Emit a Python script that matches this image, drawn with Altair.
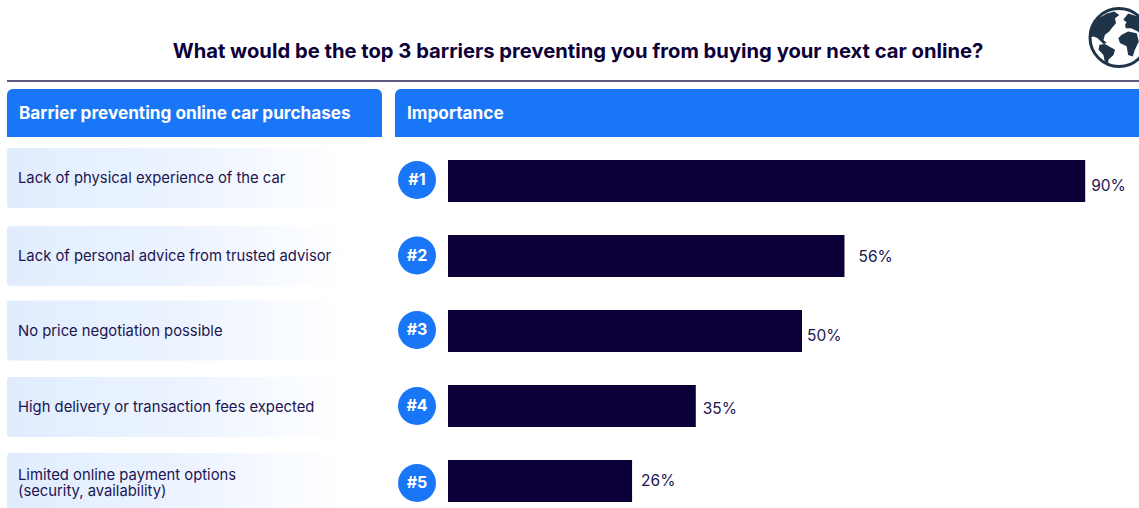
import altair as alt
import pandas as pd

# Survey results, in rank order
barriers = [
    "Lack of physical experience of the car",
    "Lack of personal advice from trusted advisor",
    "No price negotiation possible",
    "High delivery or transaction fees expected",
    "Limited online payment options\n(security, availability)",
]
shares = [90, 56, 50, 35, 26]
ranks = [1, 2, 3, 4, 5]

question = "What would be the top 3 barriers preventing you from buying your next car online?"
left_heading = "Barrier preventing online car purchases"
right_heading = "Importance"

# Palette and type
INK = "#0d0038"
BODY = "#1c1450"
BLUE = "#1976f7"
GLOBE = "#1f3349"
FONT = "Inter"

W, H = 1139, 508
PX_PER_PCT = 7.08
ORIGIN = 448
ROW_STEP = 75
FIRST_ROW = 181

x_scale = alt.Scale(domain=[-ORIGIN / PX_PER_PCT, (W - ORIGIN) / PX_PER_PCT], nice=False, zero=False, padding=0)
y_scale = alt.Scale(
    domain=[1 - FIRST_ROW / ROW_STEP, 1 + (H - FIRST_ROW) / ROW_STEP],
    reverse=True, nice=False, zero=False, padding=0,
)
X = alt.X("share:Q", scale=x_scale, axis=None, stack=None)
X0 = alt.X("base:Q", scale=x_scale, axis=None)
Y = alt.Y("rank:Q", scale=y_scale, axis=None)

df = pd.DataFrame({"rank": ranks, "share": shares, "barrier": barriers})
df["base"] = 0
df["badge"] = [f"#{r}" for r in ranks]
df["label"] = [f"{s}%" for s in shares]

blank = pd.DataFrame({"k": [0]})


def panel(x0, x1, y0, y1, **mark):
    return alt.Chart(blank).mark_rect(**mark).encode(
        x=alt.value(x0), x2=alt.value(x1), y=alt.value(y0), y2=alt.value(y1)
    )


def caption(text, x, y, **mark):
    return alt.Chart(pd.DataFrame({"t": [text]})).mark_text(baseline="middle", font=FONT, **mark).encode(
        x=alt.value(x), y=alt.value(y), text="t:N"
    )


row_fill = {
    "gradient": "linear", "x1": 0, "y1": 0, "x2": 1, "y2": 0,
    "stops": [
        {"offset": 0, "color": "#e0ebfd"},
        {"offset": 0.2, "color": "#e5f0ff"},
        {"offset": 0.5, "color": "#ecf3ff"},
        {"offset": 0.8, "color": "#f8fbff"},
        {"offset": 1, "color": "#ffffff"},
    ],
}

layers = [
    caption(question, 578, 51.5, fontSize=20.2, fontWeight=700, color=INK, align="center"),
    alt.Chart(blank).mark_rule(color="#2a2058", strokeWidth=1.3).encode(
        x=alt.value(7), x2=alt.value(W), y=alt.value(81)
    ),
    panel(7, 382, 89, 137, color=BLUE, cornerRadiusTopLeft=6, cornerRadiusTopRight=6),
    panel(395, W + 10, 89, 137, color=BLUE, cornerRadiusTopLeft=6, cornerRadiusTopRight=6),
    caption(left_heading, 19, 113.5, fontSize=17.2, fontWeight=700, color="white", align="left"),
    caption(right_heading, 407, 113.5, fontSize=17.2, fontWeight=700, color="white", align="left"),
]

# Per-row vertical nudges for the row band, its text, the badge and the value label
band_dy = [-3, 0, -0.5, 1, 2]
text_dy = [-2, 1, 1, 2, -5]
badge_dy = [-1, -0.5, -1, 0, 2]
label_dy = [5, 1, 5, 3, 0]
label_dx = [6, 14, 5, 7, 9]

for i in range(len(df)):
    row = alt.Chart(df.iloc[[i]])
    layers += [
        row.mark_rect(cornerRadius=3, color=row_fill, height=60, yOffset=band_dy[i]).encode(
            x=alt.value(7), x2=alt.value(350), y=Y
        ),
        row.mark_text(
            align="left", baseline="middle", font=FONT, fontSize=14.8, color=BODY,
            lineBreak="\n", lineHeight=16, yOffset=text_dy[i],
        ).encode(x=alt.value(18), y=Y, text="barrier:N"),
        row.mark_bar(orient="horizontal", size=42, color=INK).encode(x=X, x2="base:Q", y=Y),
        row.mark_circle(size=1444, color=BLUE, opacity=1, xOffset=-31, yOffset=badge_dy[i]).encode(
            x=X0, y=Y
        ),
        row.mark_text(
            align="center", baseline="middle", font=FONT, fontSize=16, fontWeight=700, color="white",
            xOffset=-31, yOffset=badge_dy[i],
        ).encode(x=X0, y=Y, text="badge:N"),
        row.mark_text(
            align="left", baseline="middle", font=FONT, fontSize=15.5, color=BODY,
            xOffset=label_dx[i], yOffset=label_dy[i],
        ).encode(x=X, y=Y, text="label:N"),
    ]

# Globe icon: a ring with simplified land masses drawn as custom symbols
north_america = (
    "M-.84-.41L-.67-.63L-.4-.79L-.16-.85L.01-.74L-.13-.63L-.1-.47L-.24-.3L-.32-.2L-.46-.09"
    "L-.51.08L-.4.18L-.51.21L-.71.02L-.84-.03L-.92-.01L-.95-.2Z"
)
south_america = "M-.64.24L-.46.21L-.13.4L-.18.57L-.35.73L-.35.92L-.46.84L-.51.57L-.67.4Z"
africa = "M.09-.09L.3-.2L.58-.14L.65.13L.52.4L.45.62L.3.57L.25.29L.03.18L-.02.02Z"
eurasia = "M.14-.58L.3-.79L.65-.68L1.1-.3L1.1.1L.75-.05L.62-.2L.4-.3L.22-.3L.2-.42L.25-.5Z"

layers.append(
    alt.Chart(blank).mark_point(shape="circle", size=3364, filled=False, stroke=GLOBE, strokeWidth=3, opacity=1).encode(
        x=alt.value(1119), y=alt.value(37.5)
    )
)
for land in [north_america, south_america, africa, eurasia]:
    layers.append(
        alt.Chart(blank).mark_point(shape=land, size=3721, filled=True, color=GLOBE, opacity=1).encode(
            x=alt.value(1119), y=alt.value(37.5)
        )
    )

chart = (
    alt.layer(*layers)
    .properties(width=W, height=H, padding=0, autosize=alt.AutoSizeParams(type="none"), background="white")
    .configure_view(stroke=None)
)

chart.save("out.html", embed_options={"renderer": "svg", "actions": False})
